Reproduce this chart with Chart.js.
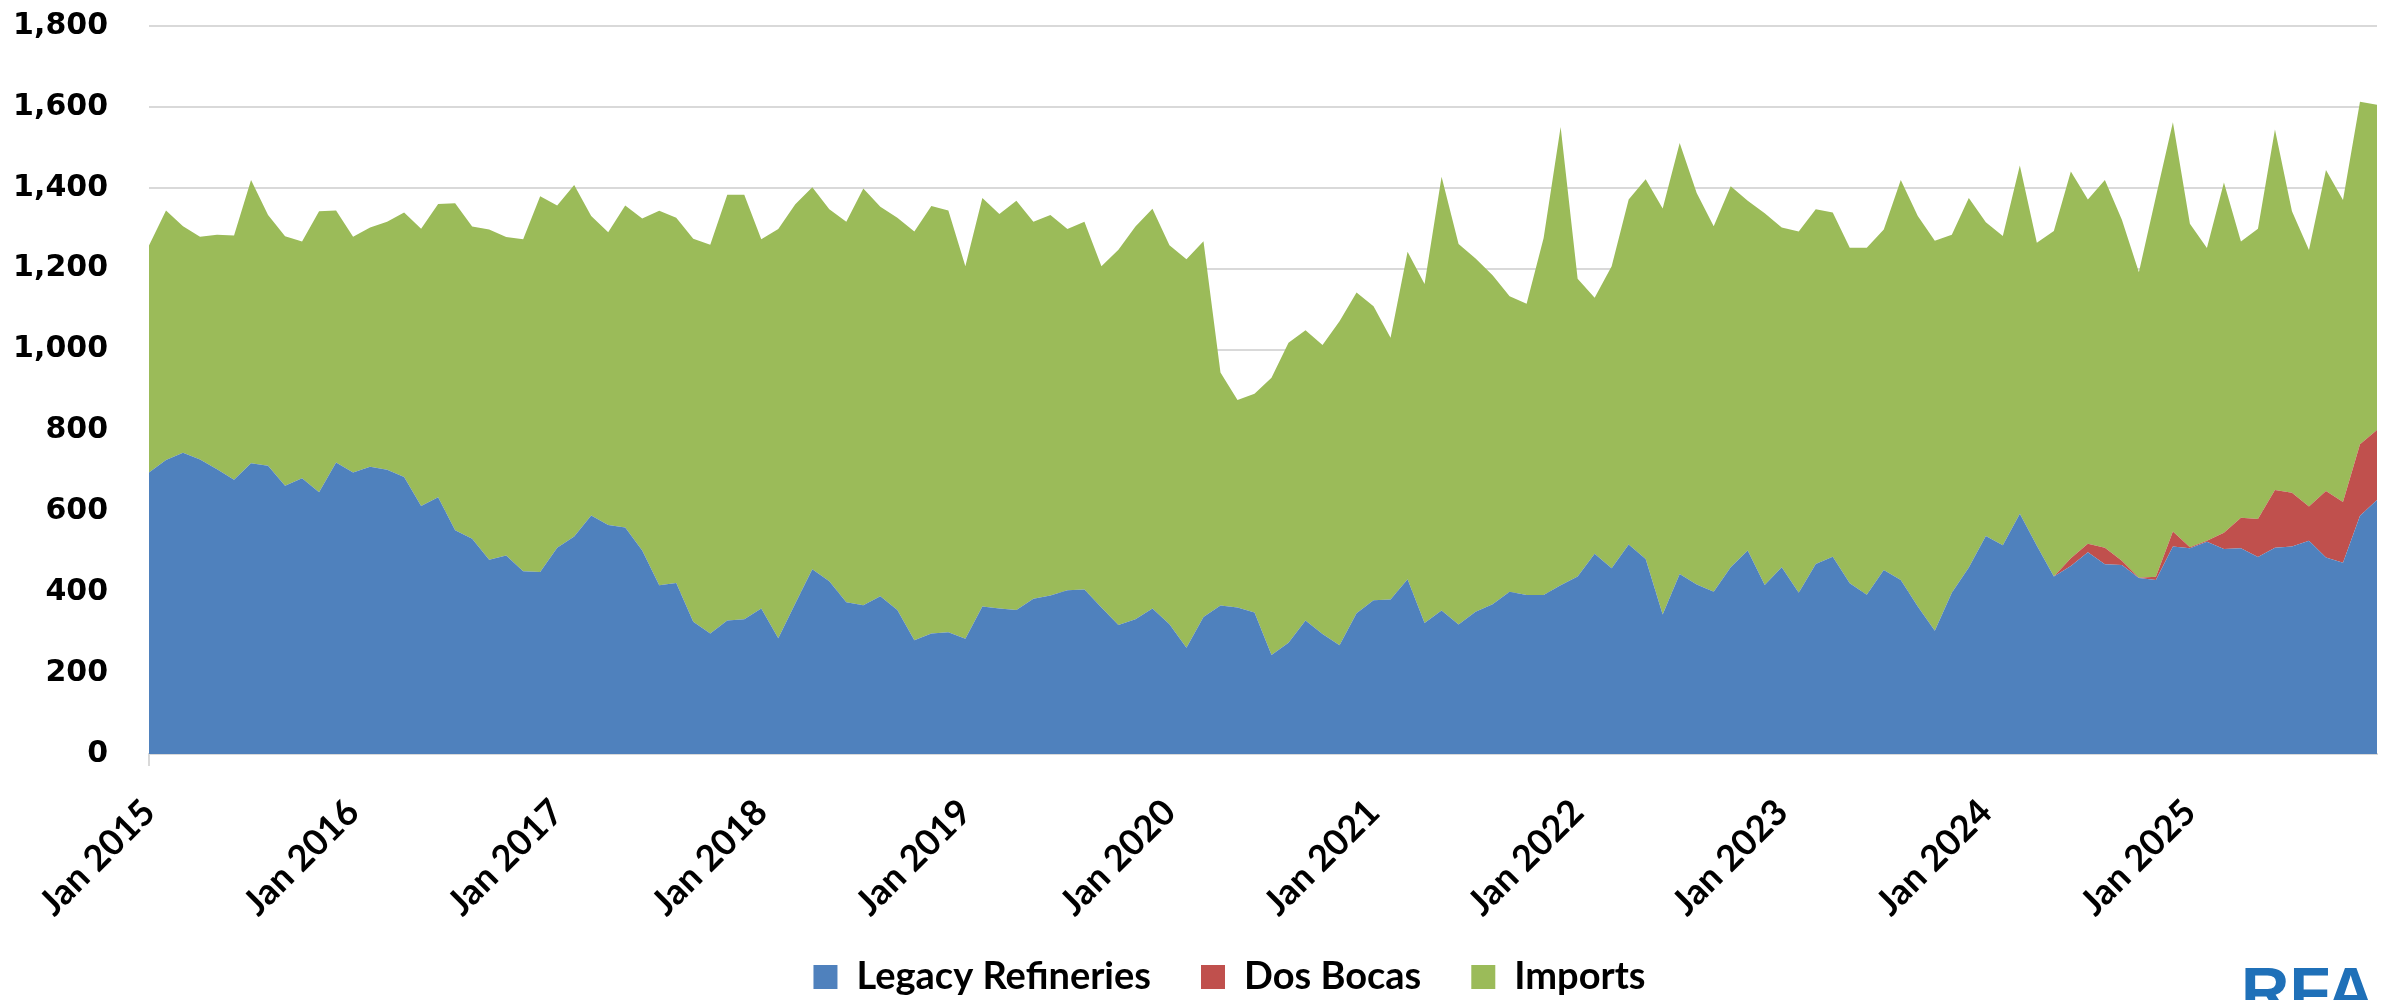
<!DOCTYPE html>
<html>
<head>
<meta charset="utf-8">
<title>Gasoline supply</title>
<script src="https://cdn.jsdelivr.net/npm/chart.js@4.4.0/dist/chart.umd.min.js"></script>
<style>
    body { margin: 0; background: #fff; overflow: hidden; }
    .chart-box { position: relative; width: 2389px; height: 1000px; }
</style>
</head>
<body>
<div class="chart-box"><canvas id="graficoOferta"></canvas></div>
<script>
const years = [2015, 2016, 2017, 2018, 2019, 2020, 2021, 2022, 2023, 2024, 2025]
const months = ['Jan', 'Feb', 'Mar', 'Apr', 'May', 'Jun', 'Jul', 'Aug', 'Sep', 'Oct', 'Nov', 'Dec']
const yTicks = [0, 200, 400, 600, 800, 1000, 1200, 1400, 1600, 1800]

const legacyRefineries = [
    696, 727, 745, 728, 704, 678, 719, 713, 663, 682, 647, 721,
    696, 710, 703, 685, 613, 635, 553, 532, 480, 491, 452, 450,
    510, 538, 590, 566, 560, 503, 417, 423, 327, 298, 330, 333,
    360, 286, 372, 457, 427, 375, 368, 390, 356, 281, 298, 301,
    285, 365, 360, 356, 384, 392, 405, 407, 362, 319, 333, 360,
    321, 263, 339, 367, 362, 350, 245, 275, 330, 297, 269, 348,
    380, 382, 432, 324, 355, 320, 352, 370, 401, 393, 393, 417,
    439, 495, 459, 518, 482, 345, 445, 419, 401, 462, 503, 418,
    462, 399, 470, 488, 422, 394, 455, 430, 365, 305, 399, 461,
    539, 516, 594, 515, 439, 465, 499, 469, 467, 435, 430, 513,
    509, 525, 507, 509, 487, 510, 513, 527, 486, 473, 589, 628
]

const dosBocas = [
    0, 0, 0, 0, 0, 0, 0, 0, 0, 0, 0, 0,
    0, 0, 0, 0, 0, 0, 0, 0, 0, 0, 0, 0,
    0, 0, 0, 0, 0, 0, 0, 0, 0, 0, 0, 0,
    0, 0, 0, 0, 0, 0, 0, 0, 0, 0, 0, 0,
    0, 0, 0, 0, 0, 0, 0, 0, 0, 0, 0, 0,
    0, 0, 0, 0, 0, 0, 0, 0, 0, 0, 0, 0,
    0, 0, 0, 0, 0, 0, 0, 0, 0, 0, 0, 0,
    0, 0, 0, 0, 0, 0, 0, 0, 0, 0, 0, 0,
    0, 0, 0, 0, 0, 0, 0, 0, 0, 0, 0, 0,
    0, 0, 0, 0, 0, 19, 21, 41, 11, 1, 8, 37,
    2, 2, 40, 75, 94, 143, 133, 85, 164, 150, 177, 173
]

const imports = [
    561, 617, 560, 551, 580, 604, 700, 620, 617, 585, 695, 623,
    583, 592, 613, 654, 686, 725, 809, 772, 817, 787, 821, 929,
    846, 869, 740, 724, 796, 821, 926, 903, 947, 961, 1053, 1050,
    913, 1012, 987, 944, 920, 941, 1030, 963, 970, 1011, 1057, 1043,
    921, 1010, 975, 1012, 932, 941, 893, 909, 844, 928, 971, 988,
    937, 960, 929, 576, 513, 541, 685, 742, 718, 714, 801, 793,
    727, 647, 810, 838, 1072, 941, 873, 814, 731, 720, 883, 1133,
    736, 633, 747, 853, 939, 1004, 1066, 968, 904, 942, 865, 919,
    840, 893, 877, 851, 830, 858, 842, 989, 965, 964, 885, 914,
    776, 765, 861, 749, 854, 956, 851, 909, 843, 755, 940, 1012,
    800, 724, 866, 683, 718, 891, 696, 634, 794, 747, 847, 804
]

window.onload = function () {
    graficoOferta()
}

function montarLabels() {
    const labels = []
    years.forEach(function (ano) {
        months.forEach(function (mes) {
            labels.push(mes + ' ' + ano)
        })
    })
    return labels
}

const logoRfa = {
    id: 'logoRfa',
    afterDraw(chart) {
        const ctx = chart.ctx
        ctx.save()
        ctx.font = 'bold 67px "Liberation Sans"'
        ctx.fillStyle = '#1f70b8'
        ctx.textBaseline = 'alphabetic'
        ctx.fillText('RFA', 2241, 1014)
        ctx.restore()
    }
}

// legend sits a bit lower and right in the excel chart,
// and the slanted dates hang below the x axis box
const ajustarLayout = {
    id: 'ajustarLayout',
    afterLayout(chart) {
        const legenda = chart.legend
        legenda.top += 6
        legenda.bottom += 6
        legenda.left += 41
        legenda.right += 41
        chart.scales.x.bottom = chart.height
    }
}

function area(label, data, color, fill) {
    return {
        label: label,
        data: data,
        backgroundColor: color,
        borderColor: color,
        borderWidth: 0,
        pointRadius: 0,
        tension: 0,
        fill: fill
    }
}

function graficoOferta() {
    const labels = montarLabels()
    const ctx = document.getElementById('graficoOferta').getContext('2d')

    new Chart(ctx, {
        type: 'line',
        data: {
            labels: labels,
            datasets: [
                area('Legacy Refineries', legacyRefineries, '#4f81bd', 'origin'),
                area('Dos Bocas', dosBocas, '#c0504d', '-1'),
                area('Imports', imports, '#9bbb59', '-1')
            ]
        },
        options: {
            responsive: true,
            maintainAspectRatio: false,
            animation: false,
            layout: {
                padding: { top: 26, right: 12, bottom: 0, left: 0 }
            },
            plugins: {
                tooltip: { enabled: false },
                legend: {
                    position: 'bottom',
                    labels: {
                        color: '#000',
                        boxWidth: 24,
                        boxHeight: 24,
                        padding: 50,
                        font: { family: 'Lato', weight: 'bold', size: 38 }
                    }
                }
            },
            scales: {
                x: {
                    offset: false,
                    afterFit: function (scale) {
                        scale.height = 148
                    },
                    grid: {
                        drawOnChartArea: false,
                        drawTicks: true,
                        tickLength: 12,
                        lineWidth: 2,
                        color: function (c) {
                            return c.index % 12 === 0 ? '#d9d9d9' : 'rgba(0,0,0,0)'
                        }
                    },
                    border: { color: '#d9d9d9', width: 2 },
                    ticks: {
                        autoSkip: false,
                        maxRotation: 45,
                        minRotation: 45,
                        padding: 25,
                        color: '#000',
                        font: { family: 'Lato', weight: 'bold', size: 36 },
                        callback: function (val, index) {
                            return index % 12 === 0 ? labels[index] : null
                        }
                    }
                },
                y: {
                    stacked: true,
                    min: 0,
                    max: 1800,
                    afterFit: function (scale) {
                        scale.width = 149
                        scale.paddingTop = 0
                        scale.paddingBottom = 0
                    },
                    afterBuildTicks: function (scale) {
                        scale.ticks = yTicks.map(function (v) { return { value: v } })
                    },
                    grid: {
                        color: '#d9d9d9',
                        lineWidth: 2,
                        drawTicks: false
                    },
                    border: { display: false },
                    ticks: {
                        padding: 41,
                        color: '#000',
                        font: { family: 'DejaVu Sans', weight: 'bold', size: 30 },
                        callback: function (value) {
                            return value.toLocaleString('en-US')
                        }
                    }
                }
            }
        },
        plugins: [logoRfa, ajustarLayout]
    })
}
</script>
</body>
</html>
